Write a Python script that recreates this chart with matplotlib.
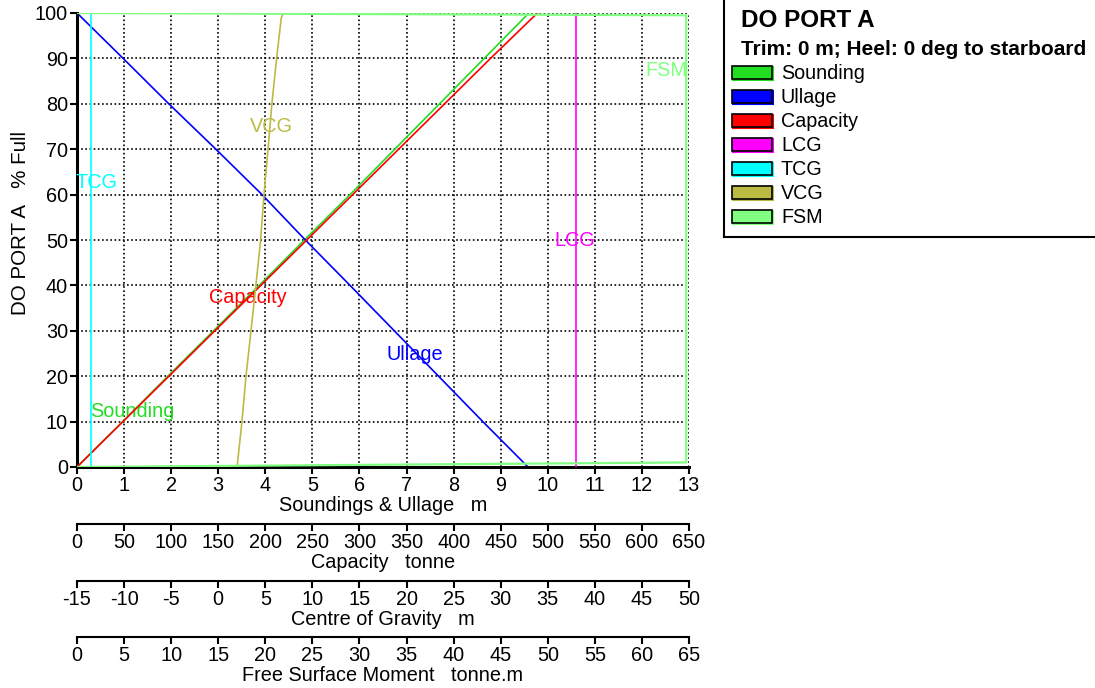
import matplotlib.pyplot as plt
from matplotlib.patches import Rectangle

plt.rcParams['font.family'] = ['Liberation Sans', 'DejaVu Sans']
plt.rcParams['axes.unicode_minus'] = False

# data
pct_full = [0, 10, 20, 30, 40, 50, 60, 70, 80, 90, 100]
sounding_m = [0, 0.97, 1.93, 2.9, 3.87, 4.83, 5.8, 6.75, 7.7, 8.65, 9.6]
ullage_m = [9.58, 8.62, 7.68, 6.74, 5.8, 4.85, 3.93, 2.95, 1.95, 0.98, 0]
capacity_t = [0, 48.8, 97.6, 146.4, 195.2, 244, 292.8, 341.6, 390.4, 439.2, 489]

lcg_pct = [0, 100]
lcg_m = [37.97, 37.97]
tcg_pct = [0, 100]
tcg_m = [-13.54, -13.54]
vcg_pct = [0, 10, 20, 30, 40, 50, 60, 70, 80, 90, 99, 100]
vcg_m = [2.0, 2.52, 2.95, 3.48, 4.0, 4.5, 4.86, 5.29, 5.7, 6.2, 6.7, 6.95]

fsm_pct = [0, 1.0, 99.5, 100]
fsm_tm = [0, 64.7, 64.7, 0]

names = ['Sounding', 'Ullage', 'Capacity', 'LCG', 'TCG', 'VCG', 'FSM']
colors = ['#22dd22', '#0000ff', '#ff0000', '#ff00ff', '#00ffff', '#bbbb44', '#80ff80']

fs = 14.3
W, H = 1095, 688
px = 72 / 100  # points per pixel at dpi 100
fig = plt.figure(figsize=(W / 100, H / 100), dpi=100)
ax = fig.add_axes([77 / W, 1 - 467 / H, 612 / W, 454 / H])

ax.set_xlim(0, 13)
ax.set_ylim(0, 100)
ax.set_xticks(range(0, 14))
ax.set_yticks(range(0, 101, 10))
ax.grid(True, color='black', linestyle=(0, (1, 1.5)), linewidth=1.2)
ax.set_axisbelow(True)
for s in ['top', 'right']:
    ax.spines[s].set_visible(False)
for s in ['left', 'bottom']:
    ax.spines[s].set_linewidth(2.2)
ax.tick_params(direction='out', length=5, width=1.5, labelsize=fs, pad=1.5)
ax.set_xlabel('Soundings & Ullage   m', fontsize=fs, labelpad=1)
ax.set_ylabel('DO PORT A   % Full', fontsize=14.8)
ax.yaxis.set_label_coords(-0.077, 0.537)


def extra_axis(offset_px, lo, hi, step, label):
    a = ax.twiny()
    a.set_xlim(lo, hi)
    a.set_xticks(range(lo, hi + 1, step))
    a.xaxis.set_ticks_position('bottom')
    a.xaxis.set_label_position('bottom')
    a.spines['bottom'].set_position(('outward', offset_px * px))
    for s in ['top', 'right', 'left']:
        a.spines[s].set_visible(False)
    a.spines['bottom'].set_linewidth(1.5)
    a.tick_params(direction='out', length=5, width=1.5, labelsize=fs, pad=1.5)
    a.set_xlabel(label, fontsize=fs, labelpad=1)
    return a


ax_cap = extra_axis(57, 0, 650, 50, 'Capacity   tonne')
ax_cog = extra_axis(114, -15, 50, 5, 'Centre of Gravity   m')
ax_fsm = extra_axis(170, 0, 65, 5, 'Free Surface Moment   tonne.m')

lw = 1.2
ax.plot(sounding_m, pct_full, color=colors[0], lw=lw)
ax.plot(ullage_m, pct_full, color=colors[1], lw=lw)
ax_cap.plot(capacity_t, pct_full, color=colors[2], lw=lw)
ax_cog.plot(lcg_m, lcg_pct, color=colors[3], lw=lw)
ax_cog.plot(tcg_m, tcg_pct, color=colors[4], lw=lw)
ax_cog.plot(vcg_m, vcg_pct, color=colors[5], lw=lw)
ax_fsm.plot(fsm_tm, fsm_pct, color=colors[6], lw=lw + 0.4)

# curve labels
ax.text(1.17, 12.3, 'Sounding', color=colors[0], fontsize=fs, ha='center', va='center')
ax.text(7.18, 24.7, 'Ullage', color=colors[1], fontsize=fs, ha='center', va='center')
ax_cap.text(181.6, 37.4, 'Capacity', color=colors[2], fontsize=fs, ha='center', va='center')
ax_cog.text(37.9, 50, 'LCG', color=colors[3], fontsize=fs, ha='center', va='center')
ax_cog.text(-12.9, 62.6, 'TCG', color=colors[4], fontsize=fs, ha='center', va='center')
ax_cog.text(5.6, 75.1, 'VCG', color=colors[5], fontsize=fs, ha='center', va='center')
ax_fsm.text(62.6, 87.4, 'FSM', color=colors[6], fontsize=fs, ha='center', va='center')

# legend box (pixel coordinates inside its own axes)
lg = fig.add_axes([724 / W, 1 - 237 / H, 1 - 724 / W + 0.01, 237 / H + 0.01])
lg.set_xlim(724, 1106)
lg.set_ylim(237, -7)
lg.set_xticks([])
lg.set_yticks([])
for s in ['top', 'right']:
    lg.spines[s].set_visible(False)
for s in ['left', 'bottom']:
    lg.spines[s].set_linewidth(1.5)
lg.text(741, 20, 'DO PORT A', fontsize=17.5, fontweight='bold', va='center')
lg.text(741, 49, 'Trim: 0 m; Heel: 0 deg to starboard', fontsize=15, fontweight='bold', va='center')
for i, (n, c) in enumerate(zip(names, colors)):
    y = 73 + 24 * i
    lg.add_patch(Rectangle((733, y - 6), 40, 13, facecolor=c, edgecolor=c, lw=1.5))
    lg.add_patch(Rectangle((732, y - 7), 40, 13, facecolor=c, edgecolor='black', lw=1.2))
    lg.text(781, y, n, fontsize=14.2, va='center')

fig.savefig('out.png', dpi=100)
